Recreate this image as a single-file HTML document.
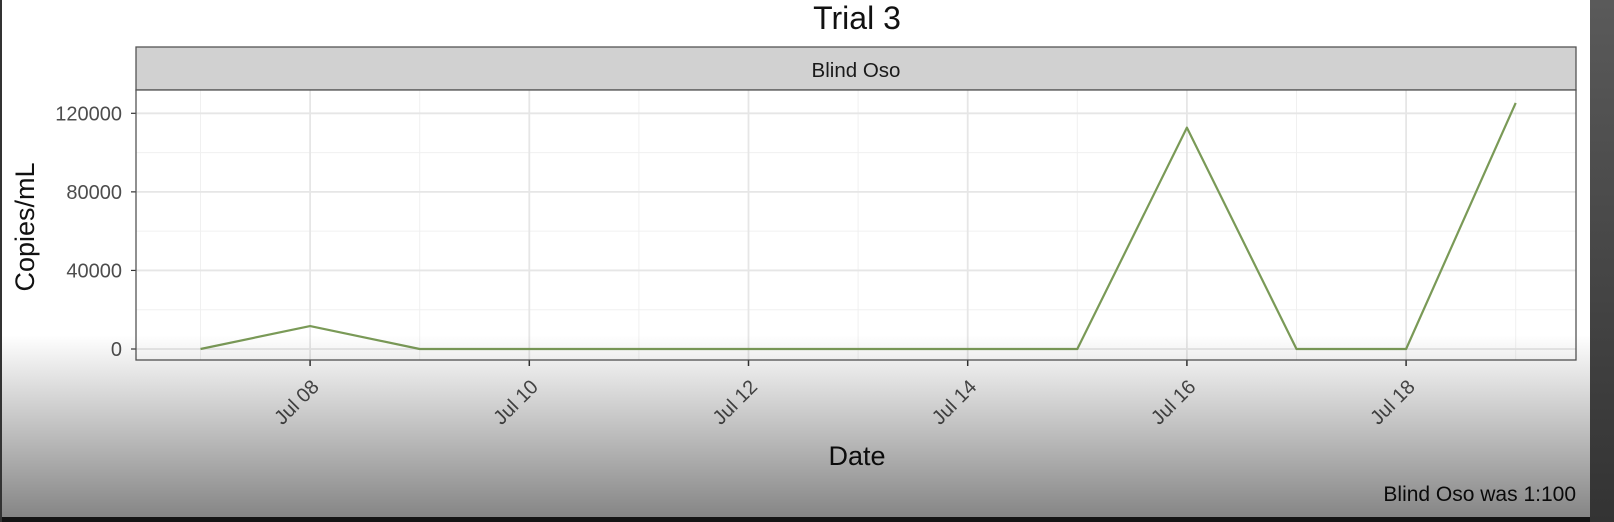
<!DOCTYPE html>
<html><head><meta charset="utf-8"><style>
html,body{margin:0;padding:0;width:1614px;height:522px;overflow:hidden;background:#fff;font-family:"Liberation Sans",sans-serif;}
#wrap{position:relative;width:1614px;height:522px;}
svg{position:absolute;left:0;top:0;}
#shade{position:absolute;left:0;top:0;width:1614px;height:522px;pointer-events:none;
background:linear-gradient(to bottom,rgba(0,0,0,0) 0px,rgba(0,0,0,0) 335px,rgba(0,0,0,0.48) 517px,rgba(20,20,20,1) 517px);}
#rightbar{position:absolute;left:1590px;top:0;width:24px;height:522px;background:linear-gradient(to bottom,#5a5a5a,#333);}
#leftbar{position:absolute;left:0;top:0;width:2px;height:522px;background:#333;}
</style></head><body>
<div id="wrap">
<svg id="chart" width="1614" height="522"></svg>
<div id="shade"></div>
<div id="rightbar"></div>
<div id="leftbar"></div>
</div>
<script>
const dayLabels = ["Jul 07","Jul 08","Jul 09","Jul 10","Jul 11","Jul 12","Jul 13","Jul 14","Jul 15","Jul 16","Jul 17","Jul 18","Jul 19"];
const copiesValues = [0,11700,0,0,0,0,0,0,0,112700,0,0,125300];
const xTickLabels = ["Jul 08","Jul 10","Jul 12","Jul 14","Jul 16","Jul 18"];
const yTicks = [0,40000,80000,120000];
const yMinor = [20000,60000,100000];

const NS="http://www.w3.org/2000/svg";
const svg=document.getElementById('chart');
const PL=136,PR=1576,PT=90,PB=360;
const x0=200.5,dayW=109.6;
function xs(i){return x0+i*dayW;}
function ys(v){return 349-v*(235.7/120000);}
function mk(t,a,p){const e=document.createElementNS(NS,t);for(const k in a)e.setAttribute(k,a[k]);(p||svg).appendChild(e);return e;}

let e;
e=mk('text',{x:857,y:29,'text-anchor':'middle','font-size':32,fill:'#111'});e.textContent='Trial 3';


e=mk('rect',{x:PL,y:47,width:PR-PL,height:43,fill:'#d1d1d1',stroke:'#555','stroke-width':1.3});


e=mk('text',{x:856,y:77,'text-anchor':'middle','font-size':20.5,fill:'#1a1a1a'});e.textContent='Blind Oso';


e=mk('rect',{x:PL,y:PT,width:PR-PL,height:PB-PT,fill:'#fff'});



yMinor.forEach(v=>{e=mk('line',{x1:PL,x2:PR,y1:ys(v),y2:ys(v),stroke:'#f0f0f0','stroke-width':1});

});
dayLabels.forEach((d,i)=>{if(i%2===0){e=mk('line',{x1:xs(i),x2:xs(i),y1:PT,y2:PB,stroke:'#f0f0f0','stroke-width':1});

}});
yTicks.forEach(v=>{e=mk('line',{x1:PL,x2:PR,y1:ys(v),y2:ys(v),stroke:'#e6e6e6','stroke-width':1.8});


e=mk('line',{x1:PL-5,x2:PL,y1:ys(v),y2:ys(v),stroke:'#333','stroke-width':1.2});


e=mk('text',{x:PL-14,y:ys(v)+7,'text-anchor':'end','font-size':20,fill:'#4d4d4d'});e.textContent=v;

});
xTickLabels.forEach(l=>{const i=dayLabels.indexOf(l);const x=xs(i);
e=mk('line',{x1:x,x2:x,y1:PT,y2:PB,stroke:'#e6e6e6','stroke-width':1.8});


e=mk('line',{x1:x,x2:x,y1:PB,y2:PB+6,stroke:'#333','stroke-width':1.5});


e=mk('text',{x:x+10,y:PB+28,'text-anchor':'end','font-size':20,fill:'#4d4d4d',transform:`rotate(-45 ${x+10} ${PB+28})`});e.textContent=l;

});

e=mk('polyline',{points:copiesValues.map((v,i)=>xs(i)+','+ys(v)).join(' '),fill:'none',stroke:'#7a9a57','stroke-width':2.2,'stroke-linejoin':'round'});


e=mk('rect',{x:PL,y:PT,width:PR-PL,height:PB-PT,fill:'none',stroke:'#555','stroke-width':1.3});



e=mk('text',{x:857,y:465,'text-anchor':'middle','font-size':27,fill:'#111'});e.textContent='Date';


e=mk('text',{x:34,y:227,'text-anchor':'middle','font-size':27,fill:'#111',transform:'rotate(-90 34 227)'});e.textContent='Copies/mL';


e=mk('text',{x:PR,y:501,'text-anchor':'end','font-size':21,fill:'#111'});e.textContent='Blind Oso was 1:100';


</script>
</body></html>
